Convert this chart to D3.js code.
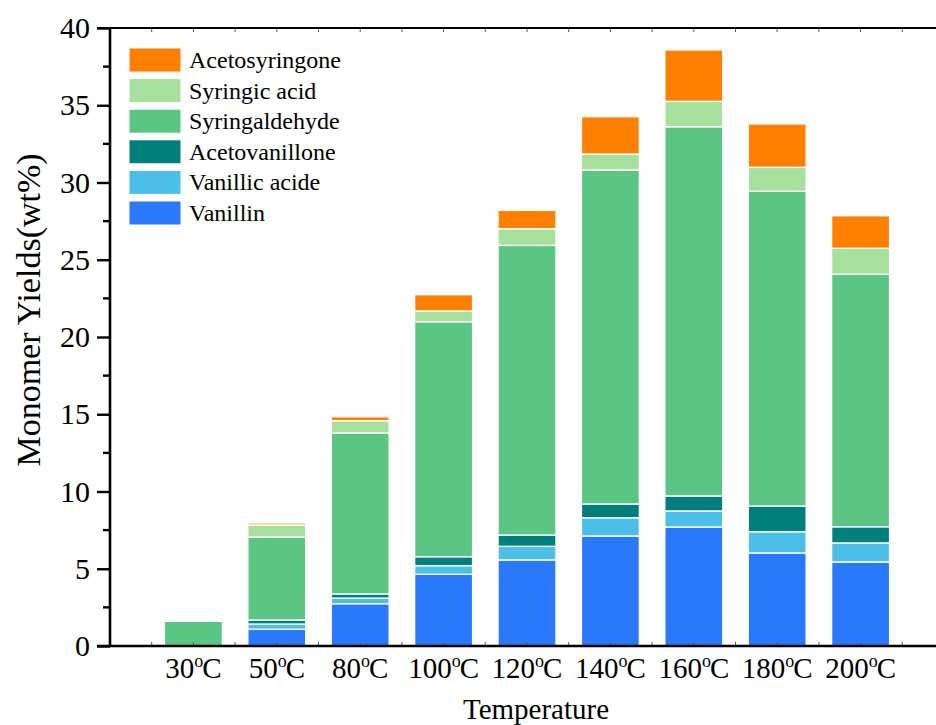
<!DOCTYPE html>
<html>
<head>
<meta charset="utf-8">
<script src="https://cdn.jsdelivr.net/npm/d3@7"></script>
<style>
  html, body { margin: 0; padding: 0; background: #fff; }
  svg { display: block; }
  text { font-family: "Liberation Serif", "Times New Roman", serif; fill: #000; }
</style>
</head>
<body>
<svg id="chart" width="936" height="725"></svg>
<script>
// ---- data ----
const categories = ["30", "50", "80", "100", "120", "140", "160", "180", "200"];
const seriesNames = ["Vanillin", "Vanillic acide", "Acetovanillone", "Syringaldehyde", "Syringic acid", "Acetosyringone"];
const vanillin       = [0,    1.08, 2.74, 4.64, 5.57, 7.12, 7.70, 6.02, 5.44];
const vanillicAcid   = [0,    0.34, 0.36, 0.56, 0.88, 1.18, 1.04, 1.38, 1.23];
const acetovanillone = [0,    0.26, 0.27, 0.58, 0.73, 0.89, 0.97, 1.66, 1.05];
const syringaldehyde = [1.60, 5.37, 10.42, 15.21, 18.75, 21.62, 23.90, 20.37, 16.34];
const syringicAcid   = [0,    0.78, 0.79, 0.69, 1.08, 1.03, 1.64, 1.55, 1.68];
const acetosyringone = [0,    0.13, 0.26, 1.06, 1.19, 2.42, 3.33, 2.81, 2.11];
const seriesColors = ["#2979fa", "#4bbfe8", "#007f7d", "#5bc584", "#a7e09c", "#ff8000"];
const yTicks = [0, 5, 10, 15, 20, 25, 30, 35, 40];
const yMinorTicks = [2.5, 7.5, 12.5, 17.5, 22.5, 27.5, 32.5, 37.5];

const seriesValues = [vanillin, vanillicAcid, acetovanillone, syringaldehyde, syringicAcid, acetosyringone];

// ---- layout ----
const svg = d3.select("#chart");
const x = d3.scaleLinear().domain([0, 10]).range([110, 944]);
const y = d3.scaleLinear().domain([0, 40]).range([646, 28]);
const barW = 58;

const rows = categories.map((c, i) => {
  const r = { cat: c, pos: i + 1 };
  seriesNames.forEach((s, k) => r[s] = seriesValues[k][i]);
  return r;
});
const stack = d3.stack().keys(seriesNames)(rows);

// bars
const g = svg.append("g");
stack.forEach((layer, k) => {
  g.selectAll(null).data(layer.filter(d => d[1] - d[0] > 0)).enter().append("rect")
    .attr("x", d => x(d.data.pos) - barW / 2)
    .attr("width", barW)
    .attr("y", d => y(d[1]))
    .attr("height", d => y(d[0]) - y(d[1]))
    .attr("fill", seriesColors[k])
    .attr("stroke", "#fff")
    .attr("stroke-width", 1.4);
});

// x minor ticks (inside, tiny) at bottom and top
const xTickVals = d3.range(0.5, 10.01, 0.5);
svg.append("g").selectAll("line").data(xTickVals).enter().append("line")
  .attr("x1", d => x(d)).attr("x2", d => x(d))
  .attr("y1", 646).attr("y2", 642)
  .attr("stroke", "#555").attr("stroke-width", 1);
svg.append("g").selectAll("line").data(xTickVals).enter().append("line")
  .attr("x1", d => x(d)).attr("x2", d => x(d))
  .attr("y1", 28).attr("y2", 32)
  .attr("stroke", "#555").attr("stroke-width", 1);

// axes lines
svg.append("line").attr("x1", 97).attr("x2", 936).attr("y1", 646).attr("y2", 646)
  .attr("stroke", "#000").attr("stroke-width", 2.6);
svg.append("line").attr("x1", 97).attr("x2", 936).attr("y1", 28).attr("y2", 28)
  .attr("stroke", "#000").attr("stroke-width", 2.2);
svg.append("line").attr("x1", 110).attr("x2", 110).attr("y1", 27).attr("y2", 647)
  .attr("stroke", "#000").attr("stroke-width", 2.6);

// y ticks
const yAxis = d3.axisLeft(y).tickValues(yTicks).tickSize(13).tickPadding(7);
const ya = svg.append("g").attr("transform", "translate(110,0)").call(yAxis);
ya.select(".domain").remove();
ya.selectAll(".tick line").attr("stroke", "#000").attr("stroke-width", 2.4);
ya.selectAll(".tick text").attr("font-size", 30).attr("font-family", "Liberation Serif").attr("fill", "#000");
svg.append("g").selectAll("line").data(yMinorTicks).enter().append("line")
  .attr("x1", 103).attr("x2", 110)
  .attr("y1", d => y(d)).attr("y2", d => y(d))
  .attr("stroke", "#000").attr("stroke-width", 2.4);

// x labels
const xl = svg.append("g").selectAll("text").data(rows).enter().append("text")
  .attr("x", d => x(d.pos)).attr("y", 678)
  .attr("text-anchor", "middle").attr("font-size", 29);
xl.append("tspan").text(d => d.cat);
xl.append("tspan").attr("font-size", 18).attr("dy", -11).text("o");
xl.append("tspan").attr("dy", 11).attr("dx", -1).text("C");

// axis titles
svg.append("text").attr("x", 536).attr("y", 719).attr("text-anchor", "middle")
  .attr("font-size", 29).text("Temperature");
svg.append("text").attr("transform", "translate(40,310) rotate(-90)")
  .attr("text-anchor", "middle").attr("font-size", 34).text("Monomer Yields(wt%)");

// legend (top to bottom: reversed)
const legendItems = seriesNames.map((s, k) => ({ name: s, color: seriesColors[k] })).reverse();
const lg = svg.append("g").selectAll("g").data(legendItems).enter().append("g")
  .attr("transform", (d, i) => `translate(129,${48 + i * 30.6})`);
lg.append("rect").attr("width", 52).attr("height", 24)
  .attr("fill", d => d.color).attr("stroke", "#fff").attr("stroke-width", 1);
lg.append("text").attr("x", 60).attr("y", 20).attr("font-size", 24).text(d => d.name);
</script>
</body>
</html>
